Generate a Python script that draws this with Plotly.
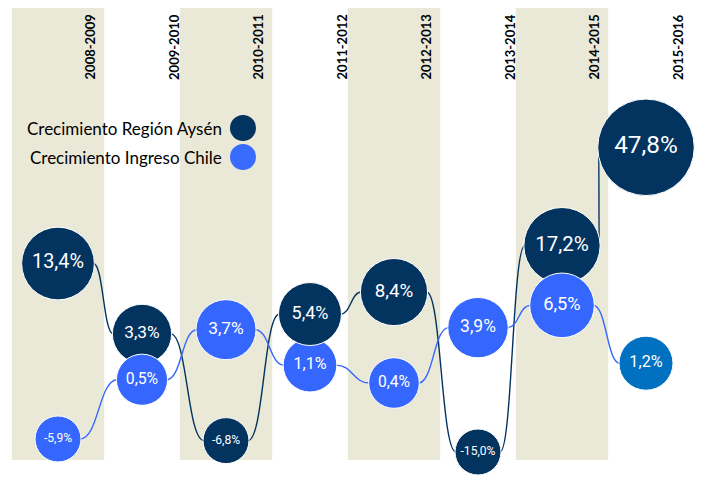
import numpy as np
import plotly.graph_objects as go

periodos = ["2008-2009", "2009-2010", "2010-2011", "2011-2012",
            "2012-2013", "2013-2014", "2014-2015", "2015-2016"]
aysen = [13.4, 3.3, -6.8, 5.4, 8.4, -15.0, 17.2, 47.8]
chile = [-5.9, 0.5, 3.7, 1.1, 0.4, 3.9, 6.5, 1.2]
# columns where the Aysén bubble sits on top of the Chile one
aysen_encima = [3]

# the page body adds an 8px margin, so the figure is drawn a bit smaller
OFF = 8
W, H = 713 - OFF, 482 - OFF
PX_X, X0 = 84, 58 - OFF      # px per column, px of first column centre
PX_Y, Y0 = 46.8, 414 - OFF   # px per scale unit, px of zero

NAVY = "#03335f"
BLUE = "#3567fe"
LAST_BLUE = "#0070c0"
BAND = "#eae8d7"
NUM_FONT = "Roboto, Liberation Sans Narrow, DejaVu Sans"


def px(x, y):
    """window pixel -> paper coords"""
    return (x - OFF) / W, 1 - (y - OFF) / H


def escala(v):
    # compressed vertical scale, negatives squeezed harder
    v = np.asarray(v, dtype=float)
    a = np.abs(v) ** 0.45
    return np.where(v >= 0, a, -0.24 * a)


def diametro(v):
    return 46 + 7.3 * np.sqrt(np.clip(np.asarray(v, dtype=float), 0, None))


def etiqueta(v):
    return f"{v:.1f}%".replace(".", ",")


def tam_texto(v):
    s = 6 + 0.19 * diametro(v)
    return np.where(np.asarray(v) >= 0, s, 0.82 * s)


def burbujas(serie, idx, colores, nombre):
    serie = np.asarray(serie, dtype=float)[idx]
    return go.Scatter(
        x=np.asarray(idx), y=escala(serie), mode="markers+text",
        marker=dict(size=diametro(serie), color=np.asarray(colores)[idx], opacity=1),
        text=[etiqueta(v) for v in serie], textposition="middle center",
        textfont=dict(family=NUM_FONT, size=tam_texto(serie), color="white"),
        hoverinfo="skip", name=nombre)


n = len(periodos)
fig = go.Figure()

shapes = []
band_y0 = px(0, 460)[1]
band_y1 = px(0, 8)[1]
for i in range(0, n - 1, 2):
    shapes.append(dict(type="rect", xref="x", yref="paper",
                       x0=i - 0.55, x1=i + 0.55, y0=band_y0, y1=band_y1,
                       fillcolor=BAND, line_width=0, layer="below"))

# S-curve connectors from bubble edge to bubble edge
for serie, color in ((aysen, NAVY), (chile, BLUE)):
    ys = escala(serie)
    ds = diametro(serie)
    for i in range(len(serie) - 1):
        x1 = i + (ds[i] / 2 - 1) / PX_X
        x2 = i + 1 - (ds[i + 1] / 2 - 1) / PX_X
        xm = (x1 + x2) / 2
        y1, y2 = ys[i], ys[i + 1]
        shapes.append(dict(type="path", xref="x", yref="y", layer="below",
                           path=f"M {x1},{y1} C {xm},{y1} {xm},{y2} {x2},{y2}",
                           line=dict(color=color, width=1.4)))

col_aysen = [NAVY] * n
col_chile = [BLUE] * (n - 1) + [LAST_BLUE]
abajo = [i for i in range(n) if i not in aysen_encima]
fig.add_trace(burbujas(aysen, abajo, col_aysen, "Crecimiento Región Aysén"))
fig.add_trace(burbujas(chile, list(range(n)), col_chile, "Crecimiento Ingreso Chile"))
fig.add_trace(burbujas(aysen, aysen_encima, col_aysen, "Crecimiento Región Aysén"))

annotations = []
for i, p in enumerate(periodos):
    annotations.append(dict(x=i + 0.38, xref="x", y=px(0, 12)[1], yref="paper",
                            text=f"<b>{p}</b>", textangle=-90, showarrow=False,
                            xanchor="center", yanchor="top",
                            font=dict(family="Lato", size=13, color="black")))

# legend drawn by hand: text on the left, circle on the right
for nombre, color, ypx in (("Crecimiento Región Aysén", NAVY, 128),
                           ("Crecimiento Ingreso Chile", "#3a6bff", 157)):
    tx, ty = px(224, ypx)
    annotations.append(dict(x=tx, xref="paper", y=ty, yref="paper",
                            text=nombre, showarrow=False, xanchor="right",
                            yanchor="middle",
                            font=dict(family="Lato", size=17, color="black")))
    cx, cy = px(243, ypx)
    shapes.append(dict(type="circle", xref="paper", yref="paper",
                       xsizemode="pixel", ysizemode="pixel",
                       xanchor=cx, yanchor=cy,
                       x0=-13, x1=13, y0=-13, y1=13,
                       fillcolor=color, line_width=0))

fig.update_layout(
    width=W, height=H,
    margin=dict(l=0, r=0, t=0, b=0),
    paper_bgcolor="white", plot_bgcolor="white",
    showlegend=False,
    xaxis=dict(visible=False, range=[-X0 / PX_X, (W - X0) / PX_X]),
    yaxis=dict(visible=False, range=[(Y0 - H) / PX_Y, Y0 / PX_Y]),
    shapes=shapes, annotations=annotations,
)

fig.write_html("out.html")
